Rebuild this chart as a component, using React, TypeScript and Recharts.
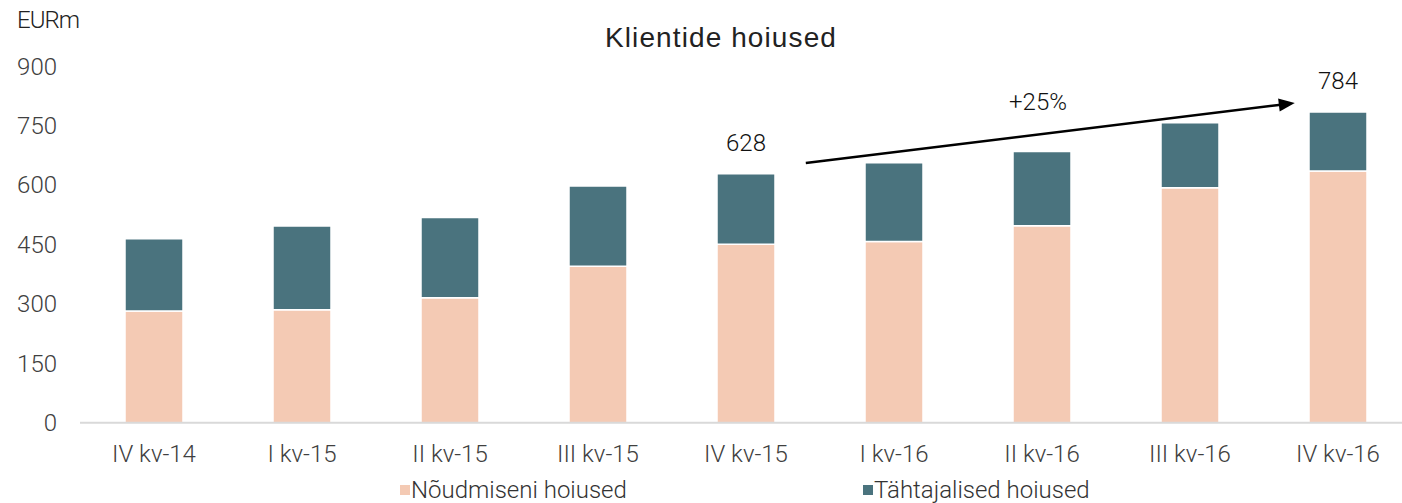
import React from "react";
import {
  Bar,
  BarChart,
  LabelList,
  Legend,
  ReferenceLine,
  XAxis,
  YAxis,
} from "recharts";

const quarters = [
  "IV kv-14",
  "I kv-15",
  "II kv-15",
  "III kv-15",
  "IV kv-15",
  "I kv-16",
  "II kv-16",
  "III kv-16",
  "IV kv-16",
];
// Nõudmiseni hoiused (demand deposits), EURm
const demandDeposits = [282, 285, 315, 395, 450, 457, 497, 593, 635];
// Tähtajalised hoiused (term deposits), EURm
const termDeposits = [182, 211, 203, 202, 178, 199, 187, 164, 149];
const totalLabelQuarters = ["IV kv-15", "IV kv-16"];
const yTicks = [0, 150, 300, 450, 600, 750, 900];

// growth arrow, drawn between two quarters
const arrowQuarters = ["IV kv-15", "IV kv-16"];
const arrowValues = [637, 820];
const arrowLabel = "+25%";

const DEMAND_COLOR = "#f4cab4";
const TERM_COLOR = "#4a737e";
const AXIS_COLOR = "#d9d9d9";
const TEXT_COLOR = "#404040";
const FONT = "Roboto, 'Liberation Sans', sans-serif";

const data = quarters.map((quarter, i) => ({
  quarter,
  demand: demandDeposits[i],
  term: termDeposits[i],
  total: demandDeposits[i] + termDeposits[i],
}));

const edgeTicks = quarters.map((_, i) => i).concat(quarters.length);

const TotalLabel = (props: any) => {
  const { x, y, width, index } = props;
  const row = data[index];
  if (!row || !totalLabelQuarters.includes(row.quarter)) return null;
  return (
    <text
      x={x + width / 2}
      y={y - 23}
      textAnchor="middle"
      fill="#111"
      fontSize={24}
      fontWeight={300}
      fontFamily={FONT}
    >
      {row.total}
    </text>
  );
};

// trims the arrow a bit at both ends so it sits between the bars
const GrowthArrow = (props: any) => {
  const { x1, y1, x2, y2 } = props;
  if (x1 == null || x2 == null) return null;
  const dx = x2 - x1;
  const dy = y2 - y1;
  const sx = x1 + dx * 0.101;
  const sy = y1 + dy * 0.101;
  const ex = x2 - dx * 0.073;
  const ey = y2 - dy * 0.073;
  const len = Math.hypot(ex - sx, ey - sy);
  const ux = (ex - sx) / len;
  const uy = (ey - sy) / len;
  const head = 16;
  const half = 6.5;
  const bx = ex - ux * head;
  const by = ey - uy * head;
  const pts = `${ex},${ey} ${bx - uy * half},${by + ux * half} ${bx + uy * half},${by - ux * half}`;
  const mx = (x1 + x2) / 2;
  const my = (y1 + y2) / 2;
  return (
    <g>
      <line x1={sx} y1={sy} x2={bx + ux * 2} y2={by + uy * 2} stroke="#000" strokeWidth={2.5} />
      <polygon points={pts} fill="#000" />
      <text
        x={mx - 4}
        y={my - 24}
        textAnchor="middle"
        fill="#111"
        fontSize={24}
        fontWeight={300}
        fontFamily={FONT}
      >
        {arrowLabel}
      </text>
    </g>
  );
};

const LegendContent = () => {
  const items = [
    { name: "Nõudmiseni hoiused", color: DEMAND_COLOR, left: 400 },
    { name: "Tähtajalised hoiused", color: TERM_COLOR, left: 863 },
  ];
  return (
    <div style={{ position: "relative", height: 26 }}>
      {items.map((it) => (
        <div
          key={it.name}
          style={{
            position: "absolute",
            left: it.left,
            top: 0,
            display: "flex",
            alignItems: "center",
            fontFamily: FONT,
            fontSize: 24,
            fontWeight: 300,
            color: "#333",
            whiteSpace: "nowrap",
            lineHeight: "26px",
          }}
        >
          <span
            style={{
              display: "inline-block",
              width: 10,
              height: 10,
              background: it.color,
              marginRight: 1,
            }}
          />
          {it.name}
        </div>
      ))}
    </div>
  );
};

export default function App() {
  return (
    <div
      style={{
        position: "absolute",
        left: 0,
        top: 0,
        width: 1402,
        height: 503,
        overflow: "hidden",
        background: "#fff",
      }}
    >
      <div
        style={{
          position: "absolute",
          left: 17,
          top: 6,
          fontFamily: FONT,
          fontSize: 24,
          fontWeight: 300,
          color: "#222",
          letterSpacing: -1,
        }}
      >
        EURm
      </div>
      <div
        style={{
          position: "absolute",
          left: 0,
          width: 1442,
          top: 22,
          textAlign: "center",
          fontFamily: "'Liberation Sans', Arial, sans-serif",
          fontSize: 28,
          fontWeight: 400,
          letterSpacing: 1.1,
          color: "#222",
        }}
      >
        Klientide hoiused
      </div>
      <BarChart
        width={1420}
        height={503}
        data={data}
        margin={{ top: 66, right: 8, left: 0, bottom: 0 }}
        barCategoryGap={0}
      >
        <XAxis
          xAxisId="cat"
          dataKey="quarter"
          height={1}
          axisLine={{ stroke: AXIS_COLOR, strokeWidth: 2 }}
          tickLine={false}
          tickSize={0}
          tickMargin={22}
          interval={0}
          tick={{ fill: TEXT_COLOR, fontSize: 24, fontWeight: 300, fontFamily: FONT }}
        />
        <XAxis
          xAxisId="edges"
          type="number"
          domain={[0, quarters.length]}
          ticks={edgeTicks}
          height={79.3}
          tick={false}
          tickSize={6}
          axisLine={false}
          tickLine={{ stroke: AXIS_COLOR, strokeWidth: 2 }}
          allowDataOverflow
        />
        <YAxis
          width={80}
          domain={[0, 900]}
          ticks={yTicks}
          axisLine={false}
          tickLine={false}
          tickSize={6}
          tickMargin={17}
          tick={{ fill: TEXT_COLOR, fontSize: 24, fontWeight: 300, fontFamily: FONT }}
        />
        <Legend
          layout="horizontal"
          verticalAlign="middle"
          align="center"
          content={LegendContent}
          wrapperStyle={{ position: "absolute", top: 477, left: 0, width: 1402 }}
        />
        <Bar
          xAxisId="cat"
          dataKey="demand"
          name="Nõudmiseni hoiused"
          stackId="a"
          fill={DEMAND_COLOR}
          stroke="#fff"
          strokeWidth={1.5}
          barSize={58}
          isAnimationActive={false}
        />
        <Bar
          xAxisId="cat"
          dataKey="term"
          name="Tähtajalised hoiused"
          stackId="a"
          fill={TERM_COLOR}
          stroke="#fff"
          strokeWidth={1.5}
          barSize={58}
          isAnimationActive={false}
        >
          <LabelList dataKey="total" content={TotalLabel} />
        </Bar>
        <ReferenceLine
          xAxisId="cat"
          segment={[
            { x: arrowQuarters[0], y: arrowValues[0] },
            { x: arrowQuarters[1], y: arrowValues[1] },
          ]}
          shape={GrowthArrow}
          ifOverflow="visible"
        />
      </BarChart>
    </div>
  );
}
